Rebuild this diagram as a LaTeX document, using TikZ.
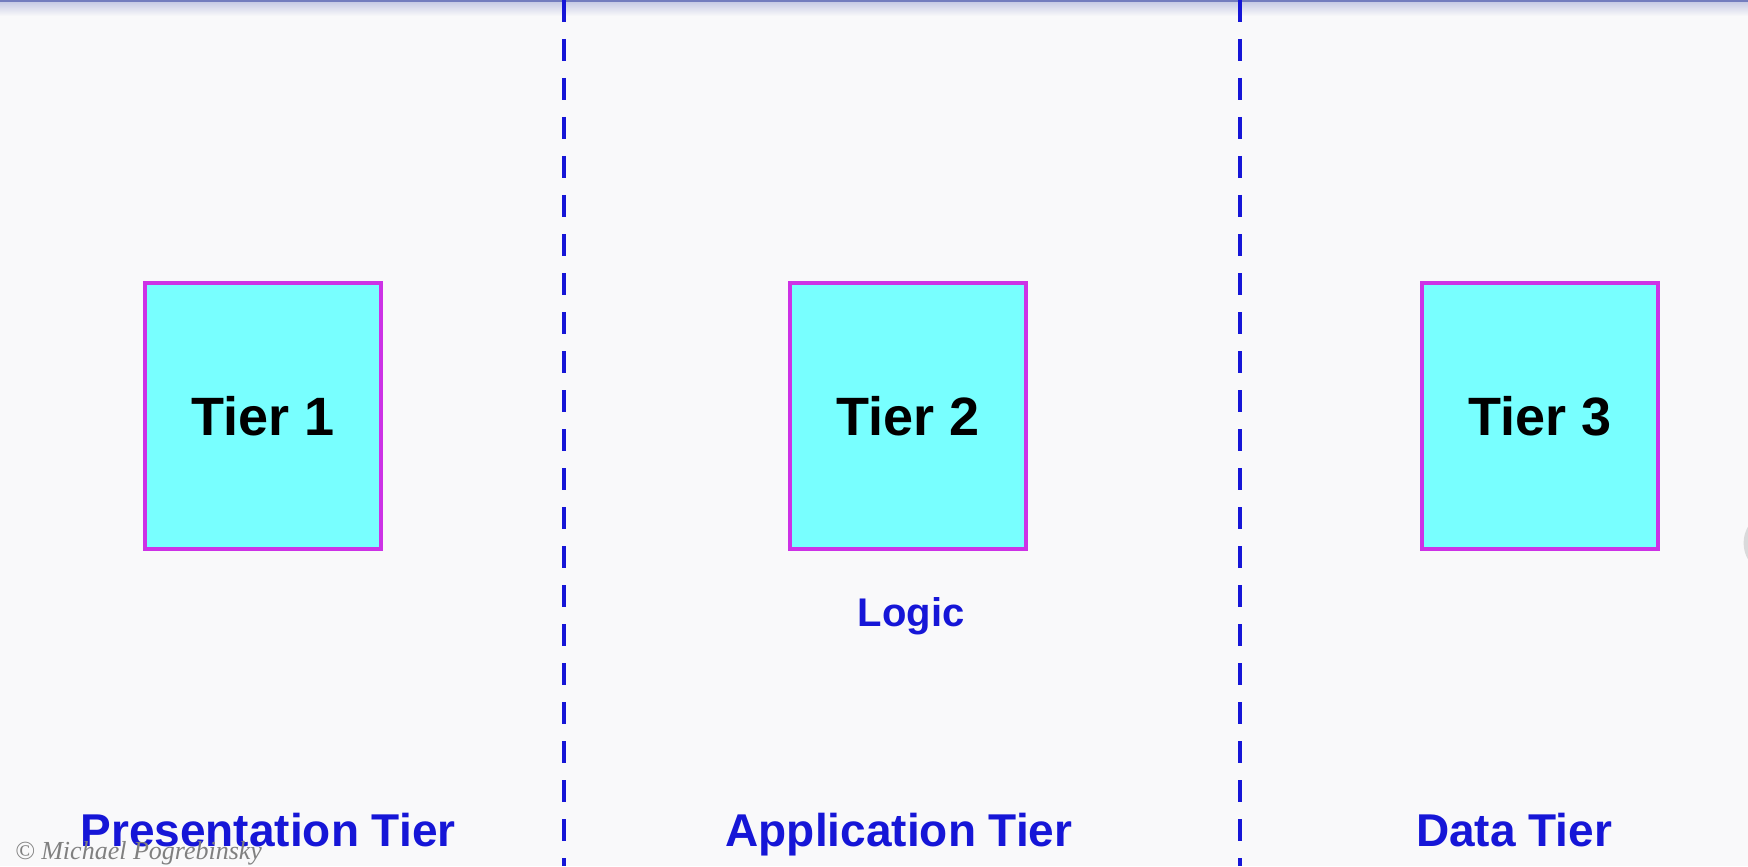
\documentclass[tikz,border=0pt]{standalone}
\usepackage{fontspec}
\setmainfont{Liberation Sans}
\newfontfamily\signfont{Liberation Serif}
\usetikzlibrary{shadows}

\definecolor{pagebg}{RGB}{249,249,250}
\definecolor{tierfill}{RGB}{120,255,255}
\definecolor{tierdraw}{RGB}{205,50,230}
\definecolor{tierblue}{RGB}{22,22,215}
\definecolor{topline}{RGB}{115,125,190}

\begin{document}
\begin{tikzpicture}[x=0.5pt,y=-0.5pt,
	tierbox/.style={rectangle, draw=tierdraw, line width=1.6pt, fill=tierfill,
		minimum width=118pt, minimum height=133pt, inner sep=0pt,
		font=\fontsize{27}{30}\selectfont\bfseries},
	tiername/.style={anchor=base, text=tierblue, font=\fontsize{23}{26}\selectfont\bfseries},
	divider/.style={tierblue, line width=2pt, dash pattern=on 11pt off 8.5pt}]
\useasboundingbox (0,0) rectangle (1748,866);
\fill[pagebg] (0,0) rectangle (1748,866);
\shade[top color=topline!45, bottom color=pagebg] (0,0) rectangle (1748,16);
\draw[topline, line width=1.5pt] (0,1) -- (1748,1);

% dividers
\draw[divider] (564,0) -- (564,866);
\draw[divider] (1240,0) -- (1240,866);

% tiers
\node [tierbox] (t1) at (263,416) {Tier 1};
\node [tierbox] (t2) at (908,416) {Tier 2};
\node [tierbox] (t3) at (1540,416) {Tier 3};

\node [text=tierblue, font=\fontsize{20}{24}\selectfont\bfseries] (logic) at (911,616) {Logic};

\node [tiername] (pres) at (268,846) {Presentation Tier};
\node [tiername] (app) at (899,846) {Application Tier};
\node [tiername] (data) at (1514,846) {Data Tier};

\node [anchor=west, text=black!50, font=\signfont\itshape\fontsize{13}{15}\selectfont] (sign) at (8,853) {\textcopyright{} Michael Pogrebinsky};

\node [circle, fill=white, minimum size=27pt, drop shadow={opacity=0.25, shadow xshift=0pt, shadow yshift=0pt, shadow scale=1.2}] (knob) at (1776,543) {};
\end{tikzpicture}
\end{document}
